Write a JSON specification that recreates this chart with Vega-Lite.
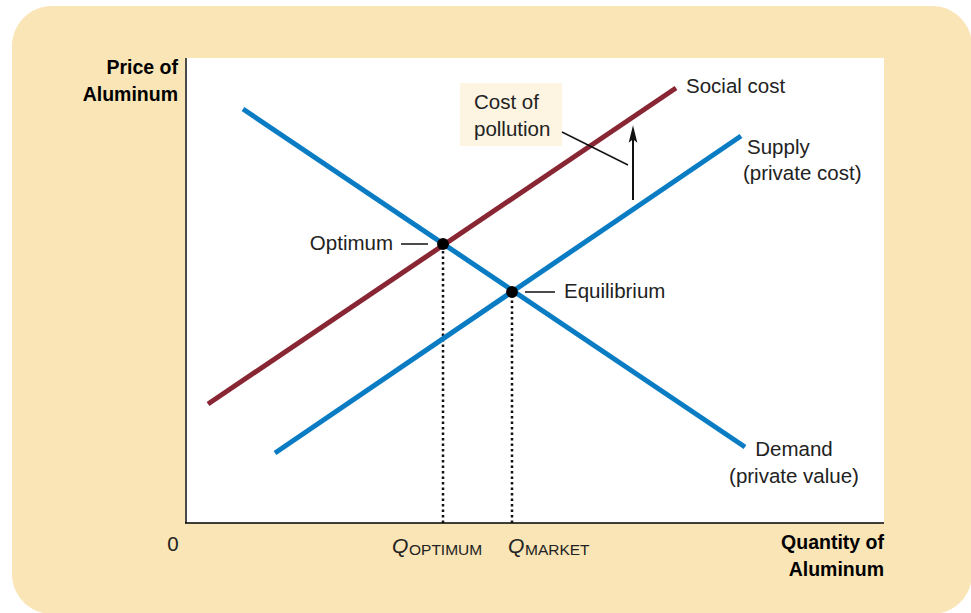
{
  "$schema": "https://vega.github.io/schema/vega-lite/v6.json",
  "width": 698,
  "height": 465,
  "autosize": {"type": "none"},
  "padding": {"left": 186, "top": 58, "right": 87, "bottom": 90},
  "background": "#ffffff",
  "config": {"view": {"stroke": null, "fill": null}, "text": {"font": "Liberation Sans", "fontSize": 20.5, "color": "#222222", "baseline": "middle"}},
  "datasets": {
    "curves": [
      {"series": "Demand", "q": 57, "p": 414},
      {"series": "Demand", "q": 559, "p": 76},
      {"series": "Supply", "q": 89, "p": 70},
      {"series": "Supply", "q": 555, "p": 387},
      {"series": "Social cost", "q": 22, "p": 119},
      {"series": "Social cost", "q": 490, "p": 435}
    ],
    "points": [
      {"name": "Optimum", "q": 257, "p": 279},
      {"name": "Equilibrium", "q": 326, "p": 231}
    ],
    "dropLines": [
      {"q": 257, "p": 0, "p2": 279},
      {"q": 326, "p": 0, "p2": 231}
    ],
    "leaders": [
      {"q": 376, "p": 391, "q2": 442, "p2": 358},
      {"q": 215, "p": 279, "q2": 242, "p2": 279},
      {"q": 339, "p": 231, "q2": 369, "p2": 231}
    ],
    "arrow": [{"q": 447, "p": 323, "p2": 386, "tip": 389}],
    "labelsLeft": [
      {"t": "Social cost", "q": 500, "p": 436},
      {"t": "Supply", "q": 561, "p": 375},
      {"t": "(private cost)", "q": 557, "p": 349},
      {"t": "Equilibrium", "q": 378, "p": 231},
      {"t": "Cost of", "q": 288, "p": 420},
      {"t": "pollution", "q": 288, "p": 393}
    ],
    "labelsCenter": [
      {"t": "Demand", "q": 608, "p": 73},
      {"t": "(private value)", "q": 608, "p": 46},
      {"t": "0", "q": -13, "p": -22}
    ],
    "labelsRight": [
      {"t": "Optimum", "q": 207, "p": 279}
    ],
    "axisTitles": [
      {"t": "Price of", "q": -8, "p": 455},
      {"t": "Aluminum", "q": -8, "p": 428},
      {"t": "Quantity of", "q": 698, "p": -20},
      {"t": "Aluminum", "q": 698, "p": -47}
    ],
    "qLabels": [
      {"t": "Q", "q": 206, "p": -24},
      {"t": "Q", "q": 322, "p": -24}
    ],
    "qSubs": [
      {"t": "OPTIMUM", "q": 223, "p": -27},
      {"t": "MARKET", "q": 339, "p": -27}
    ]
  },
  "layer": [
    {
      "data": {"values": [{}]},
      "mark": {"type": "rect", "cornerRadius": 40, "color": "#F9E5B6"},
      "encoding": {
        "x": {"datum": -174, "type": "quantitative", "scale": {"domain": [0, 698], "nice": false, "zero": false}, "axis": null},
        "x2": {"datum": 786},
        "y": {"datum": 517, "type": "quantitative", "scale": {"domain": [0, 465], "nice": false, "zero": false}, "axis": null},
        "y2": {"datum": -91}
      }
    },
    {
      "data": {"values": [{}]},
      "mark": {"type": "rect", "color": "#ffffff"},
      "encoding": {
        "x": {"datum": 0, "type": "quantitative", "scale": {"domain": [0, 698], "nice": false, "zero": false}, "axis": null},
        "x2": {"datum": 698},
        "y": {"datum": 0, "type": "quantitative", "scale": {"domain": [0, 465], "nice": false, "zero": false}, "axis": null},
        "y2": {"datum": 465}
      }
    },
    {
      "data": {"values": [{}]},
      "mark": {"type": "rect", "color": "#FDF5E2"},
      "encoding": {
        "x": {"datum": 274, "type": "quantitative", "scale": {"domain": [0, 698], "nice": false, "zero": false}, "axis": null},
        "x2": {"datum": 376},
        "y": {"datum": 377, "type": "quantitative", "scale": {"domain": [0, 465], "nice": false, "zero": false}, "axis": null},
        "y2": {"datum": 440}
      }
    },
    {
      "data": {"values": [{}]},
      "mark": {"type": "rule", "color": "#4a4a4a", "strokeWidth": 2},
      "encoding": {
        "x": {"datum": 0, "type": "quantitative", "scale": {"domain": [0, 698], "nice": false, "zero": false}, "axis": null},
        "y": {"datum": 0, "type": "quantitative", "scale": {"domain": [0, 465], "nice": false, "zero": false}, "axis": null},
        "y2": {"datum": 465}
      }
    },
    {
      "data": {"values": [{}]},
      "mark": {"type": "rule", "color": "#000000", "strokeWidth": 1.5},
      "encoding": {
        "x": {"datum": -1, "type": "quantitative", "scale": {"domain": [0, 698], "nice": false, "zero": false}, "axis": null},
        "x2": {"datum": 698},
        "y": {"datum": 0, "type": "quantitative", "scale": {"domain": [0, 465], "nice": false, "zero": false}, "axis": null}
      }
    },
    {
      "data": {"name": "dropLines"},
      "mark": {"type": "rule", "color": "#111111", "strokeWidth": 2.5, "strokeDash": [2.5, 3]},
      "encoding": {
        "x": {"field": "q", "type": "quantitative", "scale": {"domain": [0, 698], "nice": false, "zero": false}, "axis": null},
        "y": {"field": "p", "type": "quantitative", "scale": {"domain": [0, 465], "nice": false, "zero": false}, "axis": null},
        "y2": {"field": "p2"}
      }
    },
    {
      "data": {"name": "curves"},
      "mark": {"type": "line", "strokeWidth": 5, "strokeCap": "butt"},
      "encoding": {
        "x": {"field": "q", "type": "quantitative", "scale": {"domain": [0, 698], "nice": false, "zero": false}, "axis": null},
        "y": {"field": "p", "type": "quantitative", "scale": {"domain": [0, 465], "nice": false, "zero": false}, "axis": null},
        "color": {"field": "series", "type": "nominal", "scale": {"domain": ["Demand", "Supply", "Social cost"], "range": ["#0A7CC4", "#0A7CC4", "#892634"]}, "legend": null}
      }
    },
    {
      "data": {"name": "leaders"},
      "mark": {"type": "rule", "color": "#111111", "strokeWidth": 1.5},
      "encoding": {
        "x": {"field": "q", "type": "quantitative", "scale": {"domain": [0, 698], "nice": false, "zero": false}, "axis": null},
        "x2": {"field": "q2"},
        "y": {"field": "p", "type": "quantitative", "scale": {"domain": [0, 465], "nice": false, "zero": false}, "axis": null},
        "y2": {"field": "p2"}
      }
    },
    {
      "data": {"name": "arrow"},
      "mark": {"type": "rule", "color": "#111111", "strokeWidth": 2},
      "encoding": {
        "x": {"field": "q", "type": "quantitative", "scale": {"domain": [0, 698], "nice": false, "zero": false}, "axis": null},
        "y": {"field": "p", "type": "quantitative", "scale": {"domain": [0, 465], "nice": false, "zero": false}, "axis": null},
        "y2": {"field": "p2"}
      }
    },
    {
      "data": {"name": "arrow"},
      "mark": {"type": "point", "shape": "M0,-1L0.5,1L0,0.6L-0.5,1Z", "size": 300, "filled": true, "color": "#111111", "opacity": 1},
      "encoding": {
        "x": {"field": "q", "type": "quantitative", "scale": {"domain": [0, 698], "nice": false, "zero": false}, "axis": null},
        "y": {"field": "tip", "type": "quantitative", "scale": {"domain": [0, 465], "nice": false, "zero": false}, "axis": null}
      }
    },
    {
      "data": {"name": "points"},
      "mark": {"type": "circle", "size": 140, "color": "#000000", "opacity": 1},
      "encoding": {
        "x": {"field": "q", "type": "quantitative", "scale": {"domain": [0, 698], "nice": false, "zero": false}, "axis": null},
        "y": {"field": "p", "type": "quantitative", "scale": {"domain": [0, 465], "nice": false, "zero": false}, "axis": null}
      }
    },
    {
      "data": {"name": "labelsLeft"},
      "mark": {"type": "text", "align": "left"},
      "encoding": {
        "x": {"field": "q", "type": "quantitative", "scale": {"domain": [0, 698], "nice": false, "zero": false}, "axis": null},
        "y": {"field": "p", "type": "quantitative", "scale": {"domain": [0, 465], "nice": false, "zero": false}, "axis": null},
        "text": {"field": "t"}
      }
    },
    {
      "data": {"name": "labelsCenter"},
      "mark": {"type": "text", "align": "center"},
      "encoding": {
        "x": {"field": "q", "type": "quantitative", "scale": {"domain": [0, 698], "nice": false, "zero": false}, "axis": null},
        "y": {"field": "p", "type": "quantitative", "scale": {"domain": [0, 465], "nice": false, "zero": false}, "axis": null},
        "text": {"field": "t"}
      }
    },
    {
      "data": {"name": "labelsRight"},
      "mark": {"type": "text", "align": "right"},
      "encoding": {
        "x": {"field": "q", "type": "quantitative", "scale": {"domain": [0, 698], "nice": false, "zero": false}, "axis": null},
        "y": {"field": "p", "type": "quantitative", "scale": {"domain": [0, 465], "nice": false, "zero": false}, "axis": null},
        "text": {"field": "t"}
      }
    },
    {
      "data": {"name": "axisTitles"},
      "mark": {"type": "text", "align": "right", "fontWeight": "bold", "fontSize": 19.5, "color": "#000000"},
      "encoding": {
        "x": {"field": "q", "type": "quantitative", "scale": {"domain": [0, 698], "nice": false, "zero": false}, "axis": null},
        "y": {"field": "p", "type": "quantitative", "scale": {"domain": [0, 465], "nice": false, "zero": false}, "axis": null},
        "text": {"field": "t"}
      }
    },
    {
      "data": {"name": "qLabels"},
      "mark": {"type": "text", "align": "left", "fontStyle": "italic", "fontSize": 21},
      "encoding": {
        "x": {"field": "q", "type": "quantitative", "scale": {"domain": [0, 698], "nice": false, "zero": false}, "axis": null},
        "y": {"field": "p", "type": "quantitative", "scale": {"domain": [0, 465], "nice": false, "zero": false}, "axis": null},
        "text": {"field": "t"}
      }
    },
    {
      "data": {"name": "qSubs"},
      "mark": {"type": "text", "align": "left", "fontSize": 15.5},
      "encoding": {
        "x": {"field": "q", "type": "quantitative", "scale": {"domain": [0, 698], "nice": false, "zero": false}, "axis": null},
        "y": {"field": "p", "type": "quantitative", "scale": {"domain": [0, 465], "nice": false, "zero": false}, "axis": null},
        "text": {"field": "t"}
      }
    }
  ]
}
